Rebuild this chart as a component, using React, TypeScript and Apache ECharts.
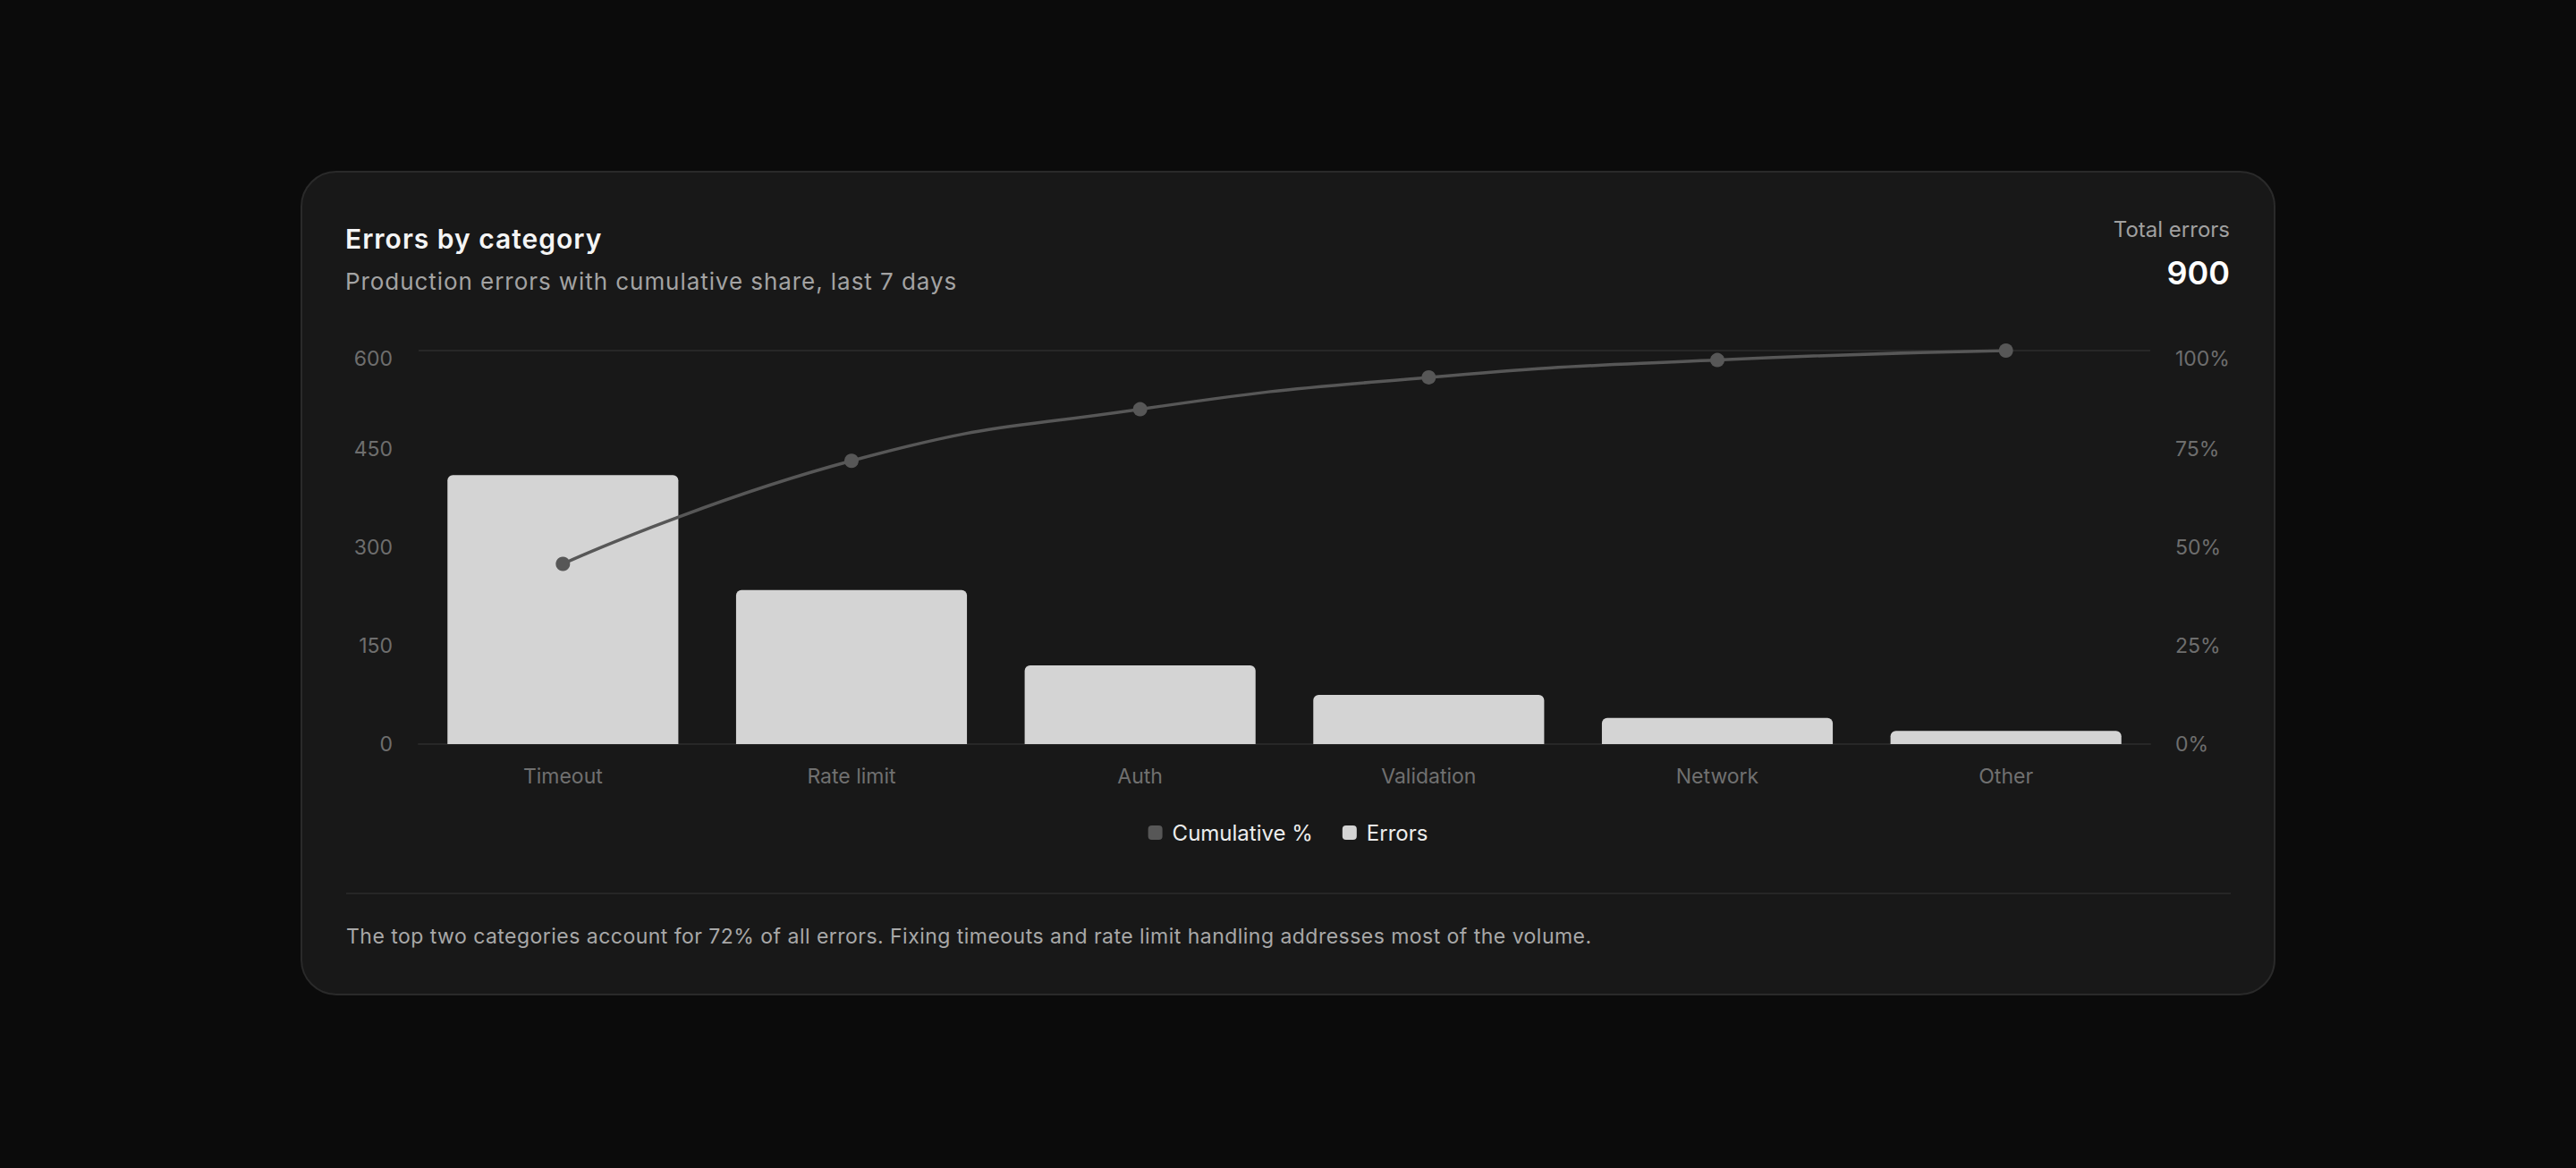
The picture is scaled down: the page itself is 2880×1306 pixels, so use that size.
import React, { useEffect, useRef } from "react";
import * as echarts from "echarts";

const categories = ["Timeout", "Rate limit", "Auth", "Validation", "Network", "Other"];
const errorCounts = [410, 235, 120, 75, 40, 20];
const cumulativePct = [45.8, 72.0, 85.1, 93.2, 97.6, 100];
const leftAxisTicks = { min: 0, max: 600, interval: 150 };
const rightAxisTicks = { min: 0, max: 100, interval: 25 };
const totalErrors = "900";
const titleText = "Errors by category";
const subtitleText = "Production errors with cumulative share, last 7 days";
const footerText =
  "The top two categories account for 72% of all errors. Fixing timeouts and rate limit handling addresses most of the volume.";

const FONT = "Inter, 'Noto Sans', sans-serif";
const W = 2880;
const H = 1306;

export default function App() {
  const ref = useRef<HTMLDivElement>(null);

  useEffect(() => {
    document.body.style.margin = "0";
    document.body.style.background = "#0b0b0b";
    if (!ref.current) return;
    const chart = echarts.init(ref.current, undefined, { renderer: "svg" });
    chart.setOption({
      animation: false,
      backgroundColor: "transparent",
      textStyle: { fontFamily: FONT },
      grid: { left: 468, right: W - 2404, top: 392, bottom: H - 832, containLabel: false },
      legend: {
        data: ["Cumulative %", "Errors"],
        top: 914,
        left: "center",
        icon: "roundRect",
        itemWidth: 16,
        itemHeight: 16,
        itemGap: 33,
        textStyle: { color: "#ededed", fontSize: 24, fontFamily: FONT, padding: [0, 0, 0, 6] },
      },
      xAxis: {
        type: "category",
        data: categories,
        axisTick: { show: false },
        axisLine: { show: true, lineStyle: { color: "#272727", width: 2 } },
        axisLabel: { color: "#707070", fontSize: 23, margin: 24, fontFamily: FONT },
        splitLine: { show: false },
      },
      yAxis: [
        {
          type: "value",
          min: leftAxisTicks.min,
          max: leftAxisTicks.max,
          interval: leftAxisTicks.interval,
          axisLine: { show: false },
          axisTick: { show: false },
          axisLabel: {
            color: "#6e6e6e",
            fontSize: 23,
            lineHeight: 17,
            margin: 29,
            fontFamily: FONT,
            verticalAlignMaxLabel: "top",
          },
          splitLine: {
            show: true,
            lineStyle: {
              width: 2,
              color: ["#272727", "rgba(0,0,0,0)", "rgba(0,0,0,0)", "rgba(0,0,0,0)", "#272727"],
            },
          },
        },
        {
          type: "value",
          position: "right",
          min: rightAxisTicks.min,
          max: rightAxisTicks.max,
          interval: rightAxisTicks.interval,
          axisLine: { show: false },
          axisTick: { show: false },
          axisLabel: {
            color: "#6e6e6e",
            fontSize: 23,
            lineHeight: 17,
            margin: 28,
            fontFamily: FONT,
            formatter: "{value}%",
            verticalAlignMaxLabel: "top",
          },
          splitLine: { show: false },
        },
      ],
      series: [
        {
          name: "Errors",
          type: "bar",
          data: errorCounts,
          barCategoryGap: "20%",
          itemStyle: { color: "#d4d4d4", borderRadius: [6, 6, 0, 0] },
          z: 2,
        },
        {
          name: "Cumulative %",
          type: "line",
          yAxisIndex: 1,
          data: cumulativePct,
          smooth: true,
          symbol: "circle",
          symbolSize: 16,
          lineStyle: { color: "#575757", width: 3.5 },
          itemStyle: { color: "#575757" },
          z: 3,
        },
      ],
    });
    return () => {
      chart.dispose();
    };
  }, []);

  const text = (s: React.CSSProperties): React.CSSProperties => ({
    position: "absolute",
    fontFamily: FONT,
    lineHeight: 1,
    whiteSpace: "nowrap",
    margin: 0,
    ...s,
  });

  return (
    <div style={{ position: "fixed", left: 0, top: 0, width: W, height: H, background: "#0b0b0b", overflow: "hidden" }}>
      <div
        style={{
          position: "absolute",
          left: 336,
          top: 191,
          width: 2208,
          height: 922,
          boxSizing: "border-box",
          background: "#181818",
          border: "2px solid #2a2a2a",
          borderRadius: 40,
        }}
      />
      <div style={text({ left: 386, top: 252.4, fontSize: 30, fontWeight: 600, color: "#f5f5f5", letterSpacing: 1 })}>
        {titleText}
      </div>
      <div style={text({ left: 386, top: 301.5, fontSize: 26, fontWeight: 400, color: "#a3a3a3", letterSpacing: 0.94 })}>
        {subtitleText}
      </div>
      <div style={text({ right: W - 2493, top: 245.3, fontSize: 24, fontWeight: 400, color: "#a0a0a0", textAlign: "right" })}>
        Total errors
      </div>
      <div style={text({ right: W - 2493, top: 286.6, fontSize: 36, fontWeight: 600, color: "#ffffff", textAlign: "right" })}>
        {totalErrors}
      </div>
      <div style={{ position: "absolute", left: 387, top: 998, width: 2107, height: 2, background: "#262626" }} />
      <div style={text({ left: 387, top: 1035.8, fontSize: 23, fontWeight: 400, color: "#a8a8a8", letterSpacing: 0.47 })}>
        {footerText}
      </div>
      <div ref={ref} style={{ position: "absolute", left: 0, top: 0, width: W, height: H }} />
    </div>
  );
}
